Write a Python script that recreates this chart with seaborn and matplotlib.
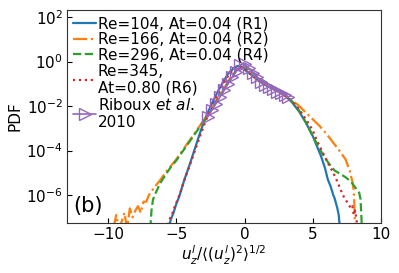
import numpy as np
import pandas as pd
import matplotlib
matplotlib.use("Agg")
import matplotlib.pyplot as plt
import matplotlib.ticker as mticker
import seaborn as sns

# log10(PDF) values
r1_x = [-5.6, -5.4, -5.2, -5.0, -4.8, -4.6, -4.4, -4.2, -4.0, -3.6, -3.2, -2.8, -2.4, -2.0, -1.6,
        -1.2, -0.8, -0.5, -0.2, 0.2, 0.6, 1.0, 1.5, 2.0, 2.5, 3.0, 3.5, 4.0, 4.5, 5.0, 5.3, 5.6,
        5.9, 6.1, 6.3, 6.5, 6.6, 6.8, 6.9, 7.0]
r1_logpdf = [-7.6, -7.1, -6.8, -6.4, -6.1, -5.7, -5.3, -4.95, -4.6, -3.85, -3.1, -2.45, -1.9, -1.4,
             -0.95, -0.55, -0.3, -0.2, -0.25, -0.45, -0.65, -0.85, -1.05, -1.2, -1.35, -1.55, -1.85,
             -2.25, -2.75, -3.35, -3.8, -4.25, -4.8, -5.3, -5.6, -6.0, -6.15, -6.6, -6.9, -7.6]

r2_x = [-9.6, -9.4, -9.2, -9.0, -8.8, -8.6, -8.4, -8.2, -8.0, -7.8, -7.6, -7.4, -7.2, -7.0, -6.6,
        -6.2, -5.8, -5.4, -5.0, -4.6, -4.2, -3.8, -3.4, -3.0, -2.6, -2.2, -1.8, -1.4, -1.0, -0.6,
        -0.3, 0.0, 0.4, 0.8, 1.2, 1.6, 2.0, 2.5, 3.0, 3.5, 4.0, 4.5, 5.0, 5.5, 6.0, 6.5, 7.0, 7.4,
        7.7, 7.9, 8.0, 8.05, 8.1]
r2_logpdf = [-7.5, -6.9, -7.5, -7.2, -6.8, -7.5, -6.6, -7.0, -6.7, -6.5, -6.8, -6.3, -6.3, -6.0,
             -5.65, -5.35, -5.0, -4.7, -4.4, -4.05, -3.7, -3.35, -3.0, -2.65, -2.3, -1.9, -1.5, -1.1,
             -0.7, -0.4, -0.25, -0.25, -0.4, -0.65, -0.85, -1.0, -1.15, -1.35, -1.55, -1.75, -2.0,
             -2.3, -2.6, -2.9, -3.25, -3.65, -4.05, -4.4, -4.9, -5.4, -5.8, -6.5, -7.6]

r4_x = [-6.9, -6.85, -6.8, -6.7, -6.5, -6.2, -5.8, -5.4, -5.0, -4.6, -4.2, -3.8, -3.4, -3.0, -2.6,
        -2.2, -1.8, -1.4, -1.0, -0.6, -0.3, 0.0, 0.4, 0.8, 1.2, 1.6, 2.0, 2.5, 3.0, 3.5, 4.0, 4.5,
        5.0, 5.4, 5.8, 6.2, 6.6, 7.0, 7.4, 7.8, 8.1, 8.4, 8.5, 8.55, 8.6]
r4_logpdf = [-7.5, -7.0, -6.6, -6.2, -5.9, -5.5, -5.1, -4.75, -4.45, -4.1, -3.75, -3.4, -3.05, -2.7,
             -2.35, -1.95, -1.55, -1.15, -0.75, -0.4, -0.25, -0.25, -0.4, -0.6, -0.8, -0.95, -1.1,
             -1.3, -1.5, -1.8, -2.2, -2.75, -3.35, -3.8, -4.25, -4.6, -4.9, -5.05, -5.2, -5.4, -5.65,
             -5.9, -6.2, -6.8, -7.6]

r6_x = [-5.7, -5.5, -5.3, -5.1, -4.9, -4.7, -4.5, -4.3, -4.0, -3.6, -3.2, -2.8, -2.4, -2.0, -1.6,
        -1.2, -0.8, -0.5, -0.2, 0.2, 0.6, 1.0, 1.5, 2.0, 2.5, 3.0, 3.5, 4.0, 4.5, 5.0, 5.3, 5.7,
        6.1, 6.5, 6.8, 7.0, 7.2, 7.4, 7.6, 7.8, 7.9, 8.0, 8.1, 8.2, 8.3]
r6_logpdf = [-7.6, -7.1, -6.85, -6.5, -6.2, -5.9, -5.5, -5.15, -4.65, -3.95, -3.25, -2.6, -2.05,
             -1.55, -1.05, -0.65, -0.35, -0.22, -0.25, -0.45, -0.65, -0.85, -1.05, -1.2, -1.35,
             -1.55, -1.8, -2.15, -2.6, -3.1, -3.55, -4.05, -4.55, -5.0, -5.4, -5.7, -6.0, -6.2,
             -6.4, -6.6, -6.5, -6.9, -6.7, -7.1, -7.6]

riboux_x = [-2.7, -2.4, -2.1, -1.8, -1.5, -1.2, -0.9, -0.6, -0.3, 0.0, 0.3, 0.6, 0.9, 1.2, 1.5,
            1.8, 2.1, 2.4, 2.7, 3.0, 3.2]
riboux_logpdf = [-2.5, -2.2, -1.9, -1.6, -1.3, -1.0, -0.7, -0.45, -0.15, -0.12, -0.3, -0.5, -0.7,
                 -0.9, -1.05, -1.15, -1.25, -1.35, -1.4, -1.5, -1.6]

labels = ["Re=104, At=0.04 (R1)", "Re=166, At=0.04 (R2)", "Re=296, At=0.04 (R4)",
          "Re=345,\nAt=0.80 (R6)", "Riboux $et\\ al.$\n2010"]

sns.set_style("ticks", {"xtick.direction": "in", "ytick.direction": "in",
                        "text.color": "black", "axes.labelcolor": "black",
                        "xtick.color": "black", "ytick.color": "black",
                        "axes.edgecolor": "0.2"})
plt.rcParams["font.family"] = ["DejaVu Sans"]
plt.rcParams["font.size"] = 11
plt.rcParams["mathtext.fontset"] = "dejavusans"

fig = plt.figure(figsize=(3.99, 2.73), dpi=100)
ax = fig.add_axes([0.168, 0.183, 0.787, 0.78])

series = [
    (r1_x, r1_logpdf, "#1f77b4", "-", labels[0]),
    (r2_x, r2_logpdf, "#ff7f0e", "-.", labels[1]),
    (r4_x, r4_logpdf, "#2ca02c", "--", labels[2]),
    (r6_x, r6_logpdf, "#d62728", ":", labels[3]),
]
for xs, ly, col, ls, lab in series:
    df = pd.DataFrame({"x": xs, "pdf": 10.0 ** np.array(ly)})
    sns.lineplot(data=df, x="x", y="pdf", color=col, linestyle=ls, lw=1.6,
                 sort=False, estimator=None, label=lab, ax=ax)

df_r = pd.DataFrame({"x": riboux_x, "pdf": 10.0 ** np.array(riboux_logpdf)})
sns.lineplot(data=df_r, x="x", y="pdf", color="#9467bd", marker=">", markersize=9,
             markerfacecolor="none", markeredgecolor="#9467bd", markeredgewidth=1.0,
             lw=1.2, sort=False, estimator=None, label=labels[4], ax=ax)

ax.set_yscale("log")
ax.set_xlim(-13, 10)
ax.set_ylim(10 ** -7.26, 10 ** 2.31)
ax.set_xticks([-10, -5, 0, 5, 10])
ax.yaxis.set_major_locator(mticker.LogLocator(base=100.0, numticks=10))
ax.yaxis.set_minor_locator(mticker.NullLocator())
ax.tick_params(labelsize=11, length=3.5, pad=3)
ax.set_xlabel(r"$u_z^l/\langle(u_z^l)^2\rangle^{1/2}$", fontsize=11, labelpad=1)
ax.set_ylabel("PDF", fontsize=11, labelpad=3)
for s in ax.spines.values():
    s.set_visible(True)

ax.text(0.02, 0.05, "(b)", transform=ax.transAxes, fontsize=15)
ax.legend(loc="upper left", frameon=False, handlelength=1.5, handletextpad=0.1,
          labelspacing=0.05, borderaxespad=0.3, borderpad=0.1, fontsize=11)

fig.savefig("out.png", dpi=100)
